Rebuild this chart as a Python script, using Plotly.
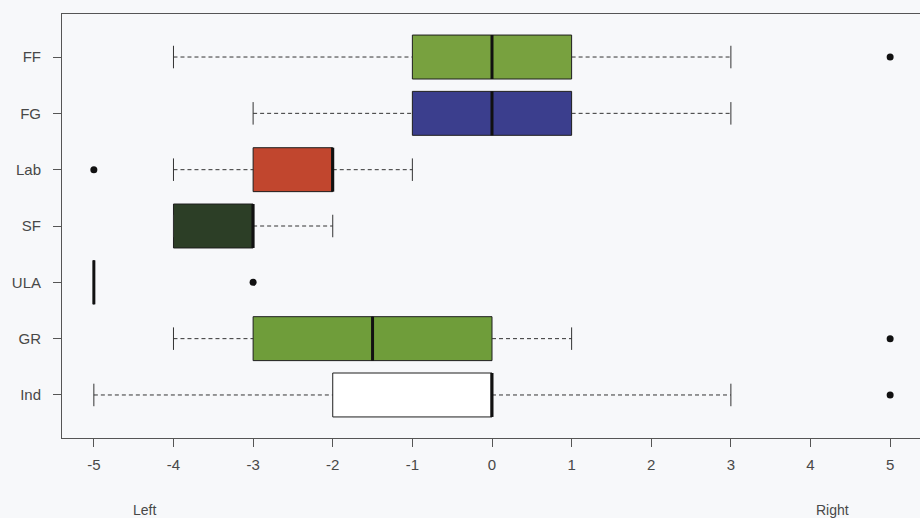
import plotly.graph_objects as go

# Groups listed bottom to top
categories = ["Ind", "GR", "ULA", "SF", "Lab", "FG", "FF"]
lower_whisker = [-5, -4, -5, -4, -4, -3, -4]
q1 = [-2, -3, -5, -4, -3, -1, -1]
median = [0, -1.5, -5, -3, -2, 0, 0]
q3 = [0, 0, -5, -3, -2, 1, 1]
upper_whisker = [3, 1, -5, -2, -1, 3, 3]
outlier_groups = ["Ind", "GR", "ULA", "Lab", "FF"]
outlier_values = [5, 5, -3, -5, 5]
fill_colors = ["#ffffff", "#6f9d3a", "#ffffff", "#2c3e26", "#c1462e", "#3b3e8d", "#78a13f"]
x_ticks = [-5, -4, -3, -2, -1, 0, 1, 2, 3, 4, 5]

BOX_W = 0.78
CAP_HALF = 0.2
EDGE = "#1e1e1e"
BG = "#f7f8fa"
TXT = "#484848"

pos = {c: i + 1 for i, c in enumerate(categories)}

fig = go.Figure()

# Boxes from precomputed quartiles (whiskers drawn separately as dashed lines)
for i, c in enumerate(categories):
    fig.add_trace(go.Box(
        orientation="h", y=[pos[c]],
        q1=[q1[i]], median=[median[i]], q3=[q3[i]],
        lowerfence=[q1[i]], upperfence=[q3[i]],
        width=BOX_W, fillcolor=fill_colors[i],
        line=dict(color=EDGE, width=1),
        boxpoints=False, whiskerwidth=0, hoverinfo="skip",
        showlegend=False,
    ))

# Dashed whiskers
wx, wy = [], []
for i, c in enumerate(categories):
    y = pos[c]
    if lower_whisker[i] < q1[i]:
        wx += [lower_whisker[i], q1[i], None]
        wy += [y, y, None]
    if upper_whisker[i] > q3[i]:
        wx += [q3[i], upper_whisker[i], None]
        wy += [y, y, None]
fig.add_trace(go.Scatter(x=wx, y=wy, mode="lines",
                         line=dict(color="#333333", width=1, dash="4px,3px"),
                         hoverinfo="skip", showlegend=False))

# Whisker staples
sx, sy = [], []
for i, c in enumerate(categories):
    y = pos[c]
    for v in (lower_whisker[i], upper_whisker[i]):
        sx += [v, v, None]
        sy += [y - CAP_HALF, y + CAP_HALF, None]
fig.add_trace(go.Scatter(x=sx, y=sy, mode="lines",
                         line=dict(color="#333333", width=1),
                         hoverinfo="skip", showlegend=False))

# Thick median lines
mx, my = [], []
for i, c in enumerate(categories):
    y = pos[c]
    mx += [median[i], median[i], None]
    my += [y - BOX_W / 2, y + BOX_W / 2, None]
fig.add_trace(go.Scatter(x=mx, y=my, mode="lines",
                         line=dict(color="#111111", width=3),
                         hoverinfo="skip", showlegend=False))

# Outliers
fig.add_trace(go.Scatter(x=outlier_values, y=[pos[g] for g in outlier_groups],
                         mode="markers",
                         marker=dict(color="#111111", size=7),
                         hoverinfo="skip", showlegend=False))

fig.update_layout(
    width=920, height=518,
    margin=dict(l=62, r=0, t=14, b=80),
    paper_bgcolor=BG, plot_bgcolor=BG,
    font=dict(family="Liberation Sans, Arial, sans-serif", size=15, color=TXT),
    xaxis=dict(
        range=[-5.4, 5.375], tickvals=x_ticks,
        ticktext=[str(t) for t in x_ticks],
        showgrid=False, zeroline=False,
        showline=True, mirror=True, linecolor="#555555", linewidth=1,
        ticks="outside", ticklen=8, tickcolor="#555555",
        ticklabelstandoff=5,
        tickfont=dict(size=15, color=TXT),
    ),
    yaxis=dict(
        range=[0.236, 7.764], tickvals=[pos[c] for c in categories],
        ticktext=categories,
        showgrid=False, zeroline=False,
        showline=True, mirror=False, linecolor="#555555", linewidth=1,
        ticks="outside", ticklen=8, tickcolor="#555555",
        ticklabelstandoff=9,
        tickfont=dict(size=15, color=TXT),
    ),
    annotations=[
        dict(text="Left", x=-4.36, xref="x", y=-0.17, yref="paper",
             yanchor="middle", showarrow=False, font=dict(size=14, color=TXT)),
        dict(text="Right", x=4.28, xref="x", y=-0.17, yref="paper",
             yanchor="middle", showarrow=False, font=dict(size=14, color=TXT)),
    ],
)

fig.write_html("out.html")
